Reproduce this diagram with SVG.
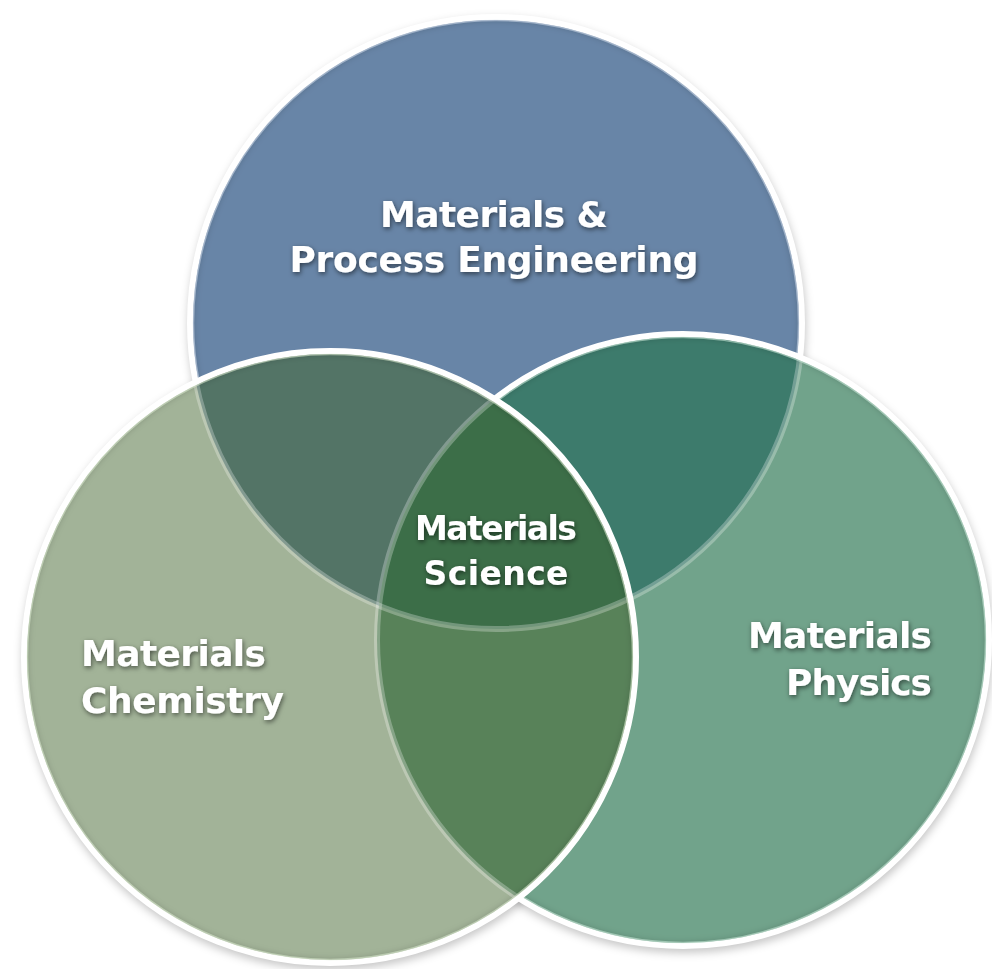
<svg xmlns="http://www.w3.org/2000/svg" width="992" height="969" viewBox="0 0 992 969">
<defs>
<style>
.rim{fill:none;stroke:#ffffff;stroke-width:6}
.rimedge{fill:none;stroke-width:1.5;stroke-opacity:0.6}
.ghost{fill:none;stroke:#ffffff;stroke-width:6;stroke-opacity:0.28}
.inner{fill:none;stroke:#000000;stroke-width:8;stroke-opacity:0.16;filter:url(#blur3)}
.lbl{font-family:"Century Gothic","DejaVu Sans",sans-serif;font-weight:bold;font-size:36px;fill:#ffffff;filter:url(#ts)}
.lblc{font-family:"Century Gothic","DejaVu Sans",sans-serif;font-weight:bold;font-size:33px;fill:#ffffff;filter:url(#ts)}
</style>
<filter id="ts" x="-20%" y="-40%" width="140%" height="180%">
<feDropShadow dx="1" dy="2" stdDeviation="2.5" flood-color="#000000" flood-opacity="0.55"/>
</filter>
<filter id="sh" x="-10%" y="-10%" width="120%" height="120%">
<feGaussianBlur stdDeviation="4"/>
</filter>
<filter id="blur3" x="-10%" y="-10%" width="120%" height="120%">
<feGaussianBlur stdDeviation="3"/>
</filter>
<clipPath id="clipT"><circle cx="496" cy="323" r="306"/></clipPath>
<clipPath id="clipR"><circle cx="683" cy="640" r="306"/></clipPath>
<clipPath id="clipL"><circle cx="330" cy="657" r="306"/></clipPath>
</defs>
<rect x="0" y="0" width="992" height="969" fill="#ffffff"/>

<g id="shadows" filter="url(#sh)" fill="#000000" fill-opacity="0.22">
<circle cx="497" cy="327" r="309"/>
<circle cx="684" cy="644" r="309"/>
<circle cx="331" cy="661" r="309"/>
</g>

<g id="node-process-engineering">
<circle cx="496" cy="323" r="306" fill="#6885A7"/>
<circle class="inner" cx="496" cy="323" r="306" clip-path="url(#clipT)"/>
<circle class="rim" cx="496" cy="323" r="306"/>
<circle class="rimedge" cx="496" cy="323" r="302.5" stroke="#c9d6e6"/>
<text class="lbl" x="494" y="227" text-anchor="middle" textLength="228">Materials &amp;</text>
<text class="lbl" x="494" y="272" text-anchor="middle" textLength="409">Process Engineering</text>
</g>

<g id="node-physics">
<circle cx="683" cy="640" r="306" fill="#71A38B"/>
<circle cx="683" cy="640" r="306" fill="#3D7B6C" clip-path="url(#clipT)"/>
<circle class="ghost" cx="496" cy="323" r="306" clip-path="url(#clipR)"/>
<circle class="inner" cx="683" cy="640" r="306" clip-path="url(#clipR)"/>
<circle class="rim" cx="683" cy="640" r="306"/>
<circle class="rimedge" cx="683" cy="640" r="302.5" stroke="#c6e6d6"/>
<text class="lbl" x="932" y="648" text-anchor="end" textLength="184">Materials</text>
<text class="lbl" x="932" y="695" text-anchor="end" textLength="146">Physics</text>
</g>

<g id="node-chemistry">
<circle cx="330" cy="657" r="306" fill="#A2B398"/>
<circle cx="330" cy="657" r="306" fill="#537466" clip-path="url(#clipT)"/>
<circle cx="330" cy="657" r="306" fill="#588259" clip-path="url(#clipR)"/>
<g clip-path="url(#clipT)">
<circle cx="330" cy="657" r="306" fill="#3C6E48" clip-path="url(#clipR)"/>
</g>
<g clip-path="url(#clipL)">
<circle class="ghost" cx="496" cy="323" r="306"/>
<circle class="ghost" cx="683" cy="640" r="306"/>
</g>
<circle class="inner" cx="330" cy="657" r="306" clip-path="url(#clipL)"/>
<circle class="rim" cx="330" cy="657" r="306"/>
<circle class="rimedge" cx="330" cy="657" r="302.5" stroke="#d6e6cc"/>
<text class="lbl" x="81" y="666" textLength="185">Materials</text>
<text class="lbl" x="81" y="713" textLength="203">Chemistry</text>
</g>

<g id="node-materials-science">
<text class="lblc" x="496" y="540" text-anchor="middle" textLength="162">Materials</text>
<text class="lblc" x="496" y="585" text-anchor="middle" textLength="145">Science</text>
</g>
</svg>
